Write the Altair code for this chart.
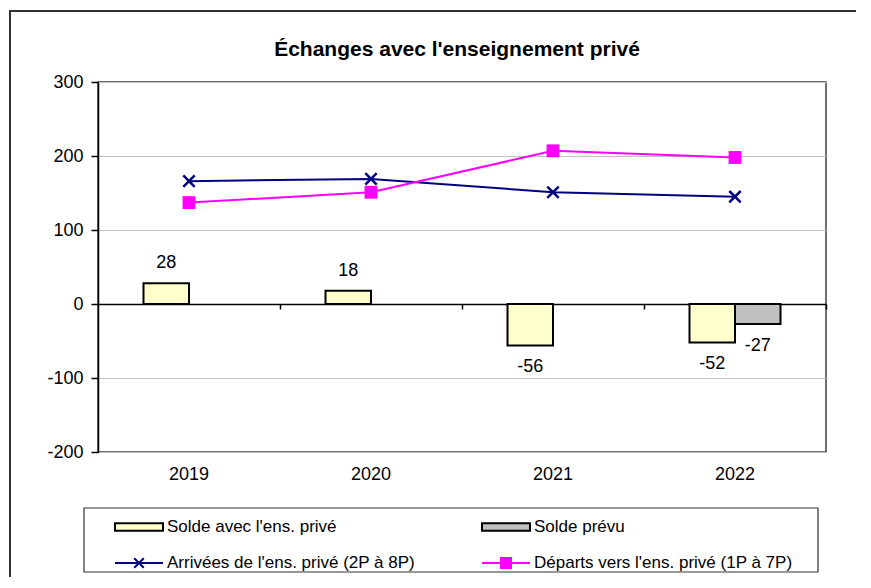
import altair as alt
import pandas as pd

FONT = "Liberation Sans"

# ---- data ----
years = ["2019", "2020", "2021", "2022"]
solde = [28, 18, -56, -52]
prevu_years = ["2022"]
prevu = [-27]
arrivees = [166, 169, 151, 145]
departs = [137, 151, 207, 198]

S1 = "Solde avec l'ens. privé"
S2 = "Solde prévu"
L1 = "Arrivées de l'ens. privé (2P à 8P)"
L2 = "Départs vers l'ens. privé (1P à 7P)"
series = [S1, S2, L1, L2]
fills = ["#FFFFCC", "#C0C0C0", "#000080", "#FF00FF"]
outlines = ["#000000", "#000000", "#000080", "#FF00FF"]
y_ticks = [-200, -100, 0, 100, 200, 300]

bar_df = pd.DataFrame({
    "annee": years + prevu_years,
    "serie": [S1] * len(years) + [S2] * len(prevu_years),
    "valeur": solde + prevu,
})
line_df = pd.DataFrame({
    "annee": years + years,
    "serie": [L1] * len(years) + [L2] * len(years),
    "valeur": arrivees + departs,
})
frame_df = pd.DataFrame({"k": [0]})

# ---- symbols ----
RECT = "M-1,-0.16H1V0.16H-1Z"
XLINE = "M-1,0H1M-0.2,-0.2L0.2,0.2M-0.2,0.2L0.2,-0.2"
SLINE = "M-1,0H1M-0.21,-0.21H0.21V0.21H-0.21Z"
XMARK = "M-1,-1L1,1M-1,1L1,-1"

xscale = alt.Scale(domain=years, paddingInner=0.5, paddingOuter=0.25)
yscale = alt.Scale(domain=[-200, 300], nice=False, zero=False)
yaxis = alt.Axis(values=y_ticks, title=None, labelFont=FONT, labelFontSize=18,
                 labelColor="black", labelPadding=8, tickSize=7, tickColor="black",
                 tickWidth=1.5, domainColor="black", domainWidth=1.5, grid=True,
                 gridColor="#c0c0c0", gridWidth=1, labelExpr="'' + datum.value")
y_enc = alt.Y("valeur:Q", scale=yscale, axis=yaxis)
x_none = alt.X("annee:N", scale=xscale, axis=None)
xoff = alt.XOffset("serie:N", scale=alt.Scale(domain=[S1, S2], paddingInner=0, paddingOuter=0))

leg = alt.Legend(title=None, orient="none", direction="horizontal", legendX=16, legendY=435,
                 columns=2, columnPadding=66, rowPadding=16, padding=0,
                 symbolSize=2304, symbolOffset=0, symbolStrokeWidth=2, symbolOpacity=1,
                 labelOffset=3, labelFont=FONT, labelFontSize=17, labelColor="black",
                 clipHeight=20, labelLimit=500)

fill_enc = alt.Fill("serie:N", scale=alt.Scale(domain=series, range=fills), legend=leg)
stroke_enc = alt.Stroke("serie:N", scale=alt.Scale(domain=series, range=outlines), legend=leg)

bars = alt.Chart(bar_df).mark_bar(strokeWidth=2).encode(
    x=alt.X("annee:N", scale=xscale,
            axis=alt.Axis(title=None, orient="bottom", domain=False, ticks=False,
                          labelFont=FONT, labelFontSize=18, labelColor="black",
                          labelPadding=13, labelAngle=0, grid=False)),
    xOffset=xoff,
    y=y_enc,
    fill=fill_enc,
    stroke=stroke_enc,
)

pos_lab = alt.Chart(bar_df).transform_filter("datum.valeur >= 0").mark_text(
    dy=-20, font=FONT, fontSize=18, color="black", baseline="middle"
).encode(x=x_none, xOffset=xoff, y=y_enc, text=alt.Text("valeur:N"))

neg_lab = alt.Chart(bar_df).transform_filter("datum.valeur < 0").mark_text(
    dy=22, font=FONT, fontSize=18, color="black", baseline="middle"
).encode(x=x_none, xOffset=xoff, y=y_enc, text=alt.Text("valeur:N"))

lines = alt.Chart(line_df).mark_line(strokeWidth=2).encode(
    x=alt.X("annee:N", scale=xscale,
            axis=alt.Axis(title=None, orient="bottom", offset=-148, labels=False,
                          domain=True, domainColor="black", domainWidth=1.5,
                          ticks=True, bandPosition=1, tickOffset=45.5, tickSize=5,
                          tickColor="black", tickWidth=1.5, grid=False)),
    y=y_enc,
    color=alt.Color("serie:N", scale=alt.Scale(domain=[L1, L2], range=["#000080", "#FF00FF"]),
                    legend=None),
)

xmarks = alt.Chart(line_df).transform_filter({"field": "serie", "equal": L1}).mark_point(
    shape=XMARK, filled=False, color="#000080", strokeWidth=2.5, size=130, opacity=1
).encode(x=x_none, y=y_enc)

squares = alt.Chart(line_df).transform_filter({"field": "serie", "equal": L2}).mark_point(
    shape="square", filled=True, color="#FF00FF", size=165, opacity=1
).encode(x=x_none, y=y_enc)

# legend carrier (no visible marks): gives the legend its per-entry shapes
carrier = alt.Chart(line_df).transform_filter("false").mark_point(filled=True).encode(
    x=x_none, y=y_enc,
    fill=fill_enc,
    stroke=stroke_enc,
    shape=alt.Shape("serie:N", scale=alt.Scale(domain=series, range=[RECT, RECT, XLINE, SLINE]),
                    legend=leg),
)

# decorative frames: outer chart border (only left/top inside the picture) and legend box
frame_top = alt.Chart(frame_df).mark_rect(fill="#333333", strokeWidth=0).encode(
    x=alt.value(-89), x2=alt.value(760), y=alt.value(-72), y2=alt.value(-70))
frame_left = alt.Chart(frame_df).mark_rect(fill="#333333", strokeWidth=0).encode(
    x=alt.value(-89), x2=alt.value(-87), y=alt.value(-72), y2=alt.value(520))
legend_box = alt.Chart(frame_df).mark_rect(
    fill="white", fillOpacity=0, stroke="#333333", strokeWidth=1.2
).encode(x=alt.value(-14), x2=alt.value(720), y=alt.value(426), y2=alt.value(490))

chart = alt.layer(
    frame_top, frame_left, legend_box, bars, pos_lab, neg_lab, lines, xmarks, squares, carrier
).resolve_axis(x="independent").properties(
    width=728,
    height=370,
    autosize=alt.AutoSizeParams(type="none"),
    padding={"left": 90, "top": 74, "right": 30, "bottom": 125},
    background="white",
    title=alt.TitleParams(
        text="Échanges avec l'enseignement privé", font=FONT, fontSize=21,
        fontWeight="bold", color="black", anchor="middle", frame="group",
        offset=-50, dx=-5),
).configure_view(stroke="#404040", strokeWidth=1.5)

chart.save("out.html", embed_options={"renderer": "svg", "actions": False})
